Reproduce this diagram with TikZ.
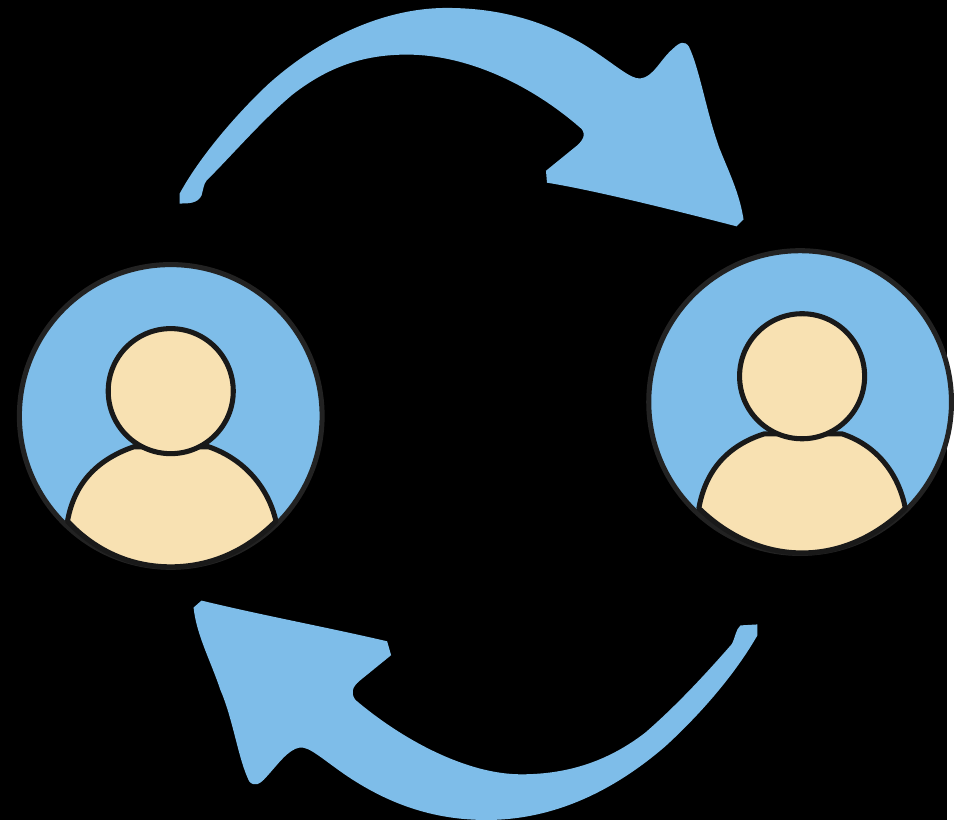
\documentclass[tikz,border=0pt]{standalone}
\usepackage{xcolor}
\definecolor{arrowblue}{HTML}{7EBDE9}
\definecolor{skincream}{HTML}{F8E1B2}
\definecolor{rimgrey}{HTML}{222222}
\tikzset{
    disc/.style={circle, draw=rimgrey, fill=arrowblue, line width=2.9pt, inner sep=0pt, minimum size=6.1cm},
    head/.style={circle, draw=black!90, fill=skincream, line width=2.9pt, inner sep=0pt, minimum size=2.52cm},
    torso/.style={draw=black!90, fill=skincream, line width=2.9pt, line join=round},
    swoosh/.style={fill=arrowblue, draw=none}
}
\begin{document}
\begin{tikzpicture}[x=0.02cm, y=-0.02cm]
    \fill[black] (0,0) rectangle (954,826);

    % top arrow
    \fill[swoosh] (181,195) -- (181,205) .. controls (190,205) and (199,205) .. (203,197)
        .. controls (205,190) and (205,186) .. (208,182)
        .. controls (235,155) and (265,120) .. (295,95)
        .. controls (330,68) and (365,55) .. (410,55)
        .. controls (470,55) and (535,85) .. (586,130)
        .. controls (590,136) and (588,140) .. (582,146)
        -- (550,172) -- (551,184)
        .. controls (600,192) and (680,212) .. (742,228) -- (749,221)
        .. controls (745,195) and (735,175) .. (725,150)
        .. controls (712,115) and (705,70) .. (694,47)
        .. controls (690,41) and (685,42) .. (678,49)
        .. controls (665,60) and (658,78) .. (645,79)
        .. controls (635,80) and (620,65) .. (590,46)
        .. controls (550,22) and (505,8) .. (450,8)
        .. controls (385,8) and (320,40) .. (270,85)
        .. controls (235,118) and (200,160) .. (181,195) -- cycle;

    % bottom arrow
    \fill[swoosh] (763,629) -- (746,630) .. controls (741,634) and (741,642) .. (737,649)
        .. controls (710,680) and (680,712) .. (650,738)
        .. controls (615,765) and (575,780) .. (525,780)
        .. controls (470,780) and (405,745) .. (358,705)
        .. controls (353,698) and (355,692) .. (362,686)
        -- (394,660) -- (390,646)
        .. controls (330,632) and (265,620) .. (203,605) -- (195,612)
        .. controls (198,640) and (212,665) .. (222,695)
        .. controls (235,725) and (240,765) .. (251,787)
        .. controls (256,793) and (262,790) .. (268,783)
        .. controls (280,770) and (290,755) .. (302,753)
        .. controls (312,752) and (325,765) .. (350,782)
        .. controls (395,812) and (440,826) .. (490,826)
        .. controls (560,826) and (620,795) .. (670,752)
        .. controls (705,720) and (740,680) .. (763,640) -- cycle;

    % left person
    \node[disc] at (172,419) (leftdisc) {};
    \draw[torso] (68,525) .. controls (75,485) and (100,462) .. (135,450) -- (210,450)
        .. controls (245,462) and (270,490) .. (278,525)
        .. controls (248,555) and (212,571) .. (172,571)
        .. controls (132,571) and (96,555) .. (68,525) -- cycle;
    \node[head] at (172,394) (lefthead) {};

    % right person
    \node[disc] at (806,405) (rightdisc) {};
    \draw[torso] (704,512) .. controls (711,472) and (735,448) .. (770,437) -- (848,437)
        .. controls (882,448) and (905,476) .. (912,512)
        .. controls (882,541) and (846,557) .. (808,557)
        .. controls (770,557) and (734,541) .. (704,512) -- cycle;
    \node[head] at (808,379) (righthead) {};
\end{tikzpicture}
\end{document}
